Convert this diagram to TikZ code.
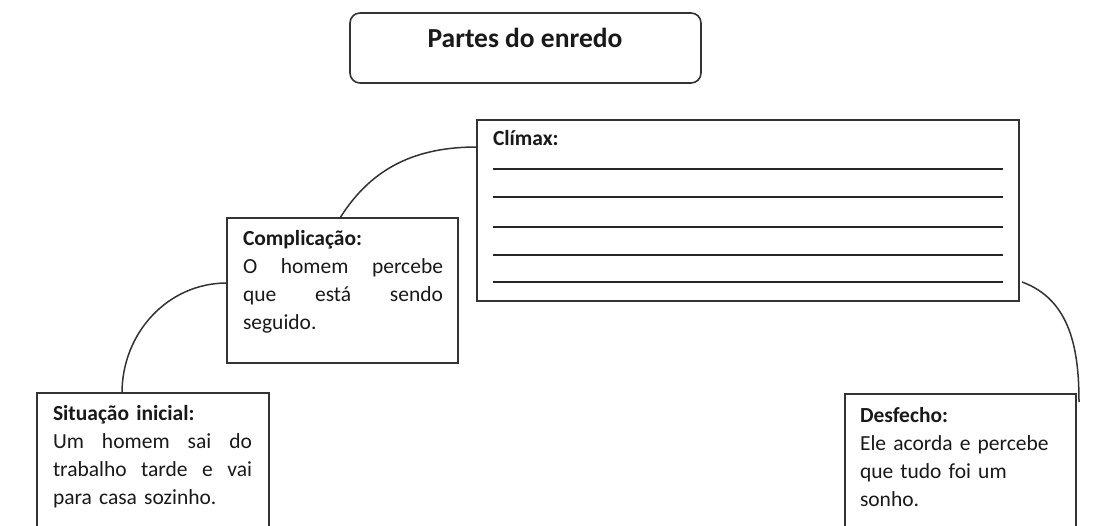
\documentclass[tikz,border=0pt]{standalone}
\usepackage{fontspec}
\setmainfont{Carlito}

\begin{document}
\begin{tikzpicture}[x=1bp,y=-1bp]
\tikzstyle{every node}+=[inner sep=0pt, outer sep=0pt]
\tikzstyle{box}=[draw=black!80, line width=1.6bp, anchor=north west]
\tikzstyle{link}=[draw=black!80, line width=1.5bp]
\tikzstyle{rule}=[draw=black!85, line width=1.8bp]
\tikzstyle{txt}=[anchor=base west, text=black!90, align=left, font=\fontsize{21.5bp}{28bp}\selectfont]
\clip (0,0) rectangle (1096,526);
\fill[white] (0,0) rectangle (1096,526);
% title
\node[box, rounded corners=10bp, minimum width=351bp, minimum height=70bp] (title) at (350,13) {};
\node[anchor=base, text=black!90, font=\fontsize{27.5bp}{31bp}\selectfont\bfseries] (titletxt) at (525,48) {Partes do enredo};
% boxes
\node[box, minimum width=542bp, minimum height=181bp] (clim) at (477,120) {};
\node[box, minimum width=231bp, minimum height=145bp] (compl) at (227,218) {};
\node[box, minimum width=232bp, minimum height=180bp] (sit) at (37,393) {};
\node[box, minimum width=231bp, minimum height=180bp] (desf) at (845,394) {};
% texts
\node[txt] (climtxt) at ([shift={(16,26)}]clim.north west) {\textbf{Clímax:}};
\foreach \y in {169,197,227,255,282}
  \draw[rule] (493,\y) -- (1003,\y);
\node[txt, text width=200bp] (compltxt) at ([shift={(16,28)}]compl.north west)
  {\textbf{Complicação:}\\O\hfill homem\hfill percebe\\que\hfill está\hfill sendo\\seguido.};
\node[txt, text width=199bp] (sittxt) at ([shift={(16,27)}]sit.north west)
  {\textbf{Situação inicial:}\\Um\hfill homem\hfill sai\hfill do\\trabalho\hfill tarde\hfill e\hfill vai\\para casa sozinho.};
\node[txt, text width=200bp] (desftxt) at ([shift={(15,28)}]desf.north west)
  {\textbf{Desfecho:}\\Ele acorda e percebe\\que tudo foi um\\sonho.};
% connectors
\draw[link] ([xshift=85bp]sit.north west) to[out=90,in=180] ([yshift=-65bp]compl.north west);
\draw[link] ([xshift=113bp]compl.north west) to[out=58,in=180] ([yshift=-27bp]clim.north west);
\draw[link] ([xshift=3bp,yshift=19bp]clim.south east) to[out=-20,in=90] ([xshift=3bp,yshift=-8bp]desf.north east);
\end{tikzpicture}
\end{document}
